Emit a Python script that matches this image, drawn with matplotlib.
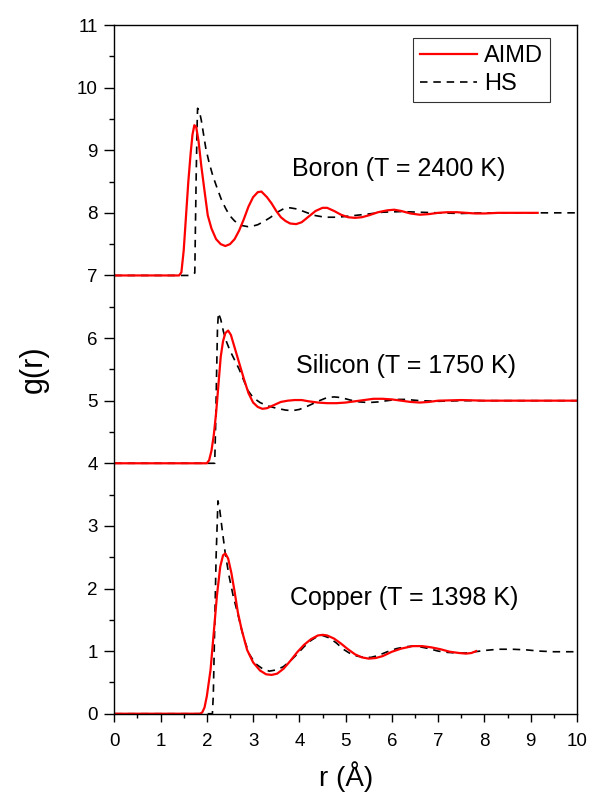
import matplotlib
matplotlib.use("Agg")
import matplotlib.pyplot as plt

plt.rcParams['font.family'] = ['Liberation Sans', 'DejaVu Sans']

# ---------------- data ----------------
# Copper (T = 1398 K), offset 0
cu_aimd_r = [0, 1.85, 1.9, 1.95, 2.0, 2.08, 2.15, 2.22, 2.29, 2.35, 2.4, 2.46, 2.53, 2.6, 2.67, 2.75,
             2.87, 3.0, 3.15, 3.28, 3.4, 3.52, 3.66, 3.8, 3.95, 4.1, 4.25, 4.4, 4.5, 4.6, 4.75,
             4.9, 5.05, 5.2, 5.35, 5.5, 5.65, 5.8, 6.0, 6.2, 6.45, 6.65, 6.85, 7.05, 7.25,
             7.45, 7.6, 7.72, 7.82]
cu_aimd_g = [0, 0, 0.02, 0.1, 0.28, 0.7, 1.3, 1.9, 2.35, 2.53, 2.56, 2.48, 2.25, 1.95, 1.62, 1.35,
             1.02, 0.82, 0.69, 0.63, 0.62, 0.64, 0.72, 0.84, 0.98, 1.1, 1.19, 1.25, 1.26, 1.25, 1.2,
             1.12, 1.03, 0.95, 0.9, 0.88, 0.89, 0.92, 0.99, 1.04, 1.08, 1.08, 1.06, 1.03, 0.99,
             0.97, 0.96, 0.97, 1.0]
cu_hs_r = [0, 2.12, 2.14, 2.17, 2.2, 2.24, 2.28, 2.33, 2.4, 2.48, 2.57, 2.67, 2.8, 2.92, 3.05,
           3.2, 3.35, 3.5, 3.65, 3.8, 3.95, 4.1, 4.25, 4.4, 4.5, 4.65, 4.8, 4.95, 5.1, 5.25,
           5.4, 5.55, 5.7, 5.9, 6.1, 6.3, 6.45, 6.6, 6.8, 7.0, 7.2, 7.4, 7.6, 7.8, 8.0, 8.3,
           8.6, 8.9, 9.2, 9.5, 9.8, 10.0]
cu_hs_g = [0, 0, 0.3, 1.4, 2.5, 3.4, 3.25, 2.95, 2.55, 2.2, 1.88, 1.59, 1.2, 0.95, 0.8,
           0.72, 0.68, 0.7, 0.75, 0.84, 0.95, 1.07, 1.17, 1.24, 1.25, 1.21, 1.13, 1.03, 0.96, 0.92,
           0.9, 0.9, 0.93, 0.99, 1.04, 1.07, 1.08, 1.07, 1.04, 1.0, 0.98, 0.97, 0.97, 0.99, 1.01, 1.03,
           1.03, 1.02, 1.0, 0.99, 0.99, 0.99]

# Silicon (T = 1750 K), offset +4
si_aimd_r = [0, 2.0, 2.05, 2.1, 2.15, 2.2, 2.25, 2.3, 2.35, 2.4, 2.46, 2.52, 2.6, 2.7, 2.8,
             2.9, 3.0, 3.1, 3.2, 3.3, 3.45, 3.6, 3.75, 3.9, 4.05, 4.2, 4.4, 4.6, 4.8, 5.0,
             5.2, 5.4, 5.6, 5.8, 6.0, 6.2, 6.4, 6.6, 6.8, 7.0, 7.5, 8.0, 8.5, 9.0, 9.5, 10.0]
si_aimd_g = [4, 4, 4.05, 4.2, 4.45, 4.8, 5.25, 5.7, 5.95, 6.08, 6.12, 6.05, 5.85, 5.6, 5.35,
             5.12, 4.97, 4.9, 4.87, 4.88, 4.93, 4.98, 5.0, 5.01, 5.01, 4.99, 4.97, 4.96, 4.96, 4.97,
             4.99, 5.01, 5.03, 5.03, 5.02, 5.0, 4.98, 4.97, 4.98, 5.0, 5.01, 5.0, 5.0, 5.0, 5.0, 5.0]
si_hs_r = [0, 2.17, 2.19, 2.21, 2.23, 2.25, 2.3, 2.36, 2.42, 2.5, 2.6, 2.7, 2.8, 2.9, 3.0,
           3.15, 3.3, 3.5, 3.7, 3.85, 4.0, 4.2, 4.4, 4.6, 4.75, 4.9, 5.1, 5.3, 5.5, 5.7,
           5.9, 6.1, 6.3, 6.6, 7.0, 7.5, 8.0, 9.0, 10.0]
si_hs_g = [4, 4, 4.6, 5.4, 6.15, 6.4, 6.3, 6.1, 5.95, 5.8, 5.65, 5.5, 5.32, 5.15, 5.05,
           4.97, 4.92, 4.88, 4.85, 4.84, 4.86, 4.92, 4.99, 5.05, 5.06, 5.05, 5.01, 4.98, 4.97, 4.98,
           5.0, 5.02, 5.02, 5.0, 4.99, 5.0, 5.0, 5.0, 5.0]

# Boron (T = 2400 K), offset +7
b_aimd_r = [0, 1.4, 1.45, 1.5, 1.55, 1.6, 1.65, 1.69, 1.73, 1.77, 1.82, 1.88, 1.95, 2.02, 2.1,
            2.2, 2.3, 2.4, 2.5, 2.6, 2.7, 2.8, 2.9, 3.0, 3.1, 3.18, 3.3, 3.4, 3.5, 3.6,
            3.7, 3.8, 3.93, 4.05, 4.2, 4.35, 4.5, 4.6, 4.75, 4.9, 5.05, 5.2, 5.35, 5.5, 5.7,
            5.9, 6.05, 6.2, 6.4, 6.6, 6.8, 7.0, 7.2, 7.4, 7.6, 7.8, 8.0, 8.3, 8.6, 9.0, 9.15]
b_aimd_g = [7, 7, 7.05, 7.4, 7.95, 8.5, 8.95, 9.25, 9.4, 9.37, 9.15, 8.75, 8.35, 7.96, 7.75,
            7.58, 7.5, 7.47, 7.5, 7.58, 7.72, 7.9, 8.1, 8.25, 8.33, 8.34, 8.25, 8.15, 8.03, 7.93,
            7.87, 7.83, 7.82, 7.85, 7.94, 8.03, 8.08, 8.08, 8.03, 7.97, 7.93, 7.92, 7.93, 7.96, 8.01,
            8.04, 8.05, 8.03, 7.99, 7.97, 7.98, 8.0, 8.01, 8.01, 8.0, 7.99, 7.99, 8.0, 8.0, 8.0, 8.0]
b_hs_r = [0, 1.62, 1.74, 1.75, 1.77, 1.79, 1.8, 1.84, 1.88, 1.93, 1.98, 2.05, 2.13, 2.22, 2.31,
          2.4, 2.49, 2.6, 2.74, 2.88, 3.0, 3.1, 3.25, 3.38, 3.5, 3.67, 3.8, 3.96, 4.1, 4.32,
          4.55, 4.82, 5.1, 5.47, 5.8, 6.2, 6.6, 7.0, 7.5, 8.0, 8.5, 9.0, 9.5, 10.0]
b_hs_g = [7, 7, 7.04, 7.6, 8.6, 9.4, 9.67, 9.62, 9.48, 9.25, 9.02, 8.8, 8.59, 8.4, 8.22,
          8.08, 7.96, 7.87, 7.8, 7.78, 7.79, 7.81, 7.87, 7.93, 8.0, 8.07, 8.08, 8.06, 8.02, 7.96,
          7.93, 7.93, 7.95, 7.98, 8.01, 8.02, 8.01, 8.0, 7.99, 8.0, 8.0, 8.0, 8.0, 8.0]

labels = ["Boron (T = 2400 K)", "Silicon (T = 1750 K)", "Copper (T = 1398 K)"]
series_names = ["AIMD", "HS"]
x_ticks = [0, 1, 2, 3, 4, 5, 6, 7, 8, 9, 10]
y_ticks = [0, 1, 2, 3, 4, 5, 6, 7, 8, 9, 10, 11]

# ---------------- figure ----------------
fig = plt.figure(figsize=(5.91, 7.94), dpi=100)
ax = fig.add_axes([0.1934, 0.1011, 0.9763 - 0.1934, 0.9685 - 0.1011])

red_kw = dict(color='#ff0000', lw=1.6, solid_joinstyle='round')
hs_kw = dict(color='black', lw=1.2, linestyle=(0, (4.5, 3.5)))

ax.plot(cu_hs_r, cu_hs_g, **hs_kw)
ax.plot(si_hs_r, si_hs_g, **hs_kw)
ax.plot(b_hs_r, b_hs_g, **hs_kw)
l1, = ax.plot(b_aimd_r, b_aimd_g, label=series_names[0], **red_kw)
ax.plot(si_aimd_r, si_aimd_g, **red_kw)
ax.plot(cu_aimd_r, cu_aimd_g, **red_kw)
l2, = ax.plot([], [], label=series_names[1], **hs_kw)

ax.set_xlim(0, 10)
ax.set_ylim(0, 11)
ax.set_xticks(x_ticks)
ax.set_yticks(y_ticks)
ax.set_xticks([x + 0.5 for x in x_ticks[:-1]], minor=True)
ax.set_yticks([y + 0.5 for y in y_ticks[:-1]], minor=True)
ax.tick_params(which='major', direction='out', length=7, width=1, labelsize=13.5)
ax.tick_params(which='minor', direction='out', length=3.5, width=1)
ax.tick_params(axis='y', which='major', pad=5)
ax.tick_params(axis='x', which='major', length=6, pad=8)
ax.tick_params(axis='x', which='minor', length=3)
for s in ax.spines.values():
    s.set_linewidth(1.0)

ax.set_xlabel("r (Å)", fontsize=20, labelpad=8)
ax.set_ylabel("g(r)", fontsize=22, labelpad=20)

ax.text(3.85, 8.59, labels[0], fontsize=18, ha='left', va='baseline')
ax.text(3.93, 5.44, labels[1], fontsize=18, ha='left', va='baseline')
ax.text(3.79, 1.73, labels[2], fontsize=18, ha='left', va='baseline')

leg = ax.legend(handles=[l1, l2], loc='upper right', bbox_to_anchor=(0.942, 0.981),
                borderaxespad=0, fontsize=17, frameon=True, fancybox=False,
                edgecolor='black', handlelength=2.4, handletextpad=0.3,
                labelspacing=0.25, borderpad=0.3)
leg.get_frame().set_linewidth(0.8)

fig.savefig("out.png", dpi=100)
